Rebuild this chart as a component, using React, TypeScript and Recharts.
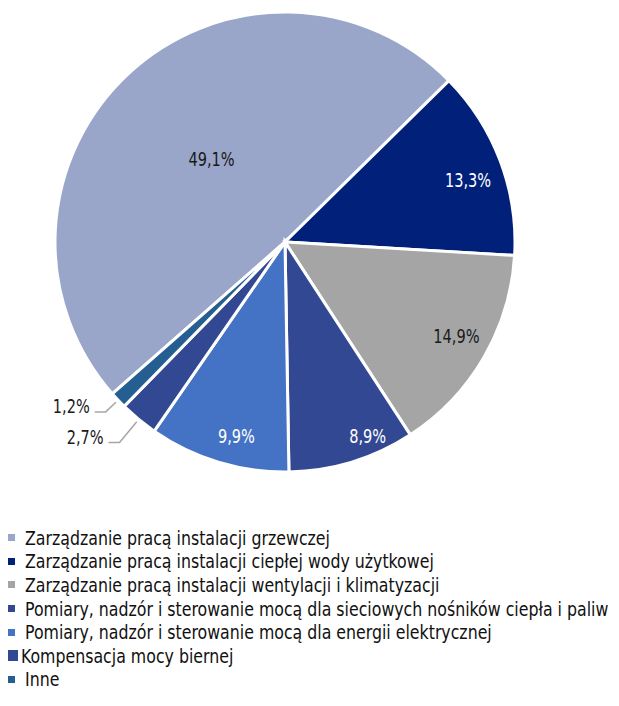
import { PieChart, Pie, Cell, Legend } from 'recharts';

// --- data ---
const categories = [
  'Zarządzanie pracą instalacji grzewczej',
  'Zarządzanie pracą instalacji ciepłej wody użytkowej',
  'Zarządzanie pracą instalacji wentylacji i klimatyzacji',
  'Pomiary, nadzór i sterowanie mocą dla sieciowych nośników ciepła i paliw',
  'Pomiary, nadzór i sterowanie mocą dla energii elektrycznej',
  'Kompensacja mocy biernej',
  'Inne',
];
const shares = [49.1, 13.3, 14.9, 8.9, 9.9, 2.7, 1.2];
const titleText = 'Struktura wydatków w latach 2011-2015';

// --- styling ---
const colors = ['#99a6c9', '#00207a', '#a5a5a5', '#324893', '#4472c4', '#324893', '#255e91'];
const labelColors = ['#1a1a1a', '#ffffff', '#1a1a1a', '#ffffff', '#ffffff', '#1a1a1a', '#1a1a1a'];
// inside labels: radius factor + compass angle shift; outside: elbow extension
const labelRadius = [0.48, 0.84, 0.85, 0.92, 0.87, 0, 0];
const labelShift = [1.2, 1.9, -1.4, -6, -2.8, 0, 0];
const outsideElbow = [0, 0, 0, 0, 0, 30, 17];
const markerSize = [7, 7, 7, 7, 7, 11, 7];

const FONT = '"DejaVu Sans Condensed", "DejaVu Sans", sans-serif';
const SQUEEZE = 0.85;
const RADIAN = Math.PI / 180;

const chartData = categories.map((name, i) => ({ name, value: shares[i] }));

const renderLabel = (props: any) => {
  const { cx, cy, midAngle, outerRadius, index } = props;
  const text = shares[index].toFixed(1).replace('.', ',') + '%';
  const compass = 90 - midAngle;
  if (outsideElbow[index] === 0) {
    const c = (compass + labelShift[index]) * RADIAN;
    const r = outerRadius * labelRadius[index];
    const x = cx + r * Math.sin(c);
    const y = cy - r * Math.cos(c);
    return (
      <text transform={`translate(${x},${y}) scale(${SQUEEZE},1)`} fill={labelColors[index]}
        textAnchor="middle" dominantBaseline="central" fontFamily={FONT} fontSize={19}>
        {text}
      </text>
    );
  }
  const c = compass * RADIAN;
  const r0 = outerRadius + 3;
  const r1 = outerRadius + outsideElbow[index];
  const x0 = cx + r0 * Math.sin(c);
  const y0 = cy - r0 * Math.cos(c);
  const x1 = cx + r1 * Math.sin(c);
  const y1 = cy - r1 * Math.cos(c);
  const x2 = x1 - 11;
  return (
    <g>
      <polyline points={`${x0},${y0} ${x1},${y1} ${x2},${y1}`} fill="none" stroke="#a6a6a6" strokeWidth={1.5} />
      <text transform={`translate(${x2 - 5},${y1 + 1}) scale(${SQUEEZE},1)`} fill={labelColors[index]}
        textAnchor="end" fontFamily={FONT} fontSize={19}>
        {text}
      </text>
    </g>
  );
};

const renderLegend = () => (
  <div style={{ fontFamily: FONT, fontSize: 20, color: '#111' }}>
    {categories.map((name, i) => (
      <div key={name} style={{ height: 23.6, display: 'flex', alignItems: 'center', whiteSpace: 'nowrap' }}>
        <span style={{
          display: 'inline-block', flexShrink: 0, width: markerSize[i], height: markerSize[i], background: colors[i],
          marginLeft: markerSize[i] > 7 ? 7 : 8, marginRight: markerSize[i] > 7 ? 3 : 10,
        }} />
        <span style={{ display: 'inline-block', flexShrink: 0, transform: 'scaleX(0.877)', transformOrigin: 'left center' }}>
          {name}
        </span>
      </div>
    ))}
  </div>
);

export default function App() {
  return (
    <div style={{ width: 619, height: 706, margin: '-8px 0 -8px -8px', position: 'relative', overflow: 'hidden', background: '#fff' }}>
      <PieChart width={619} height={706} margin={{ top: 0, right: 0, bottom: 0, left: 0 }} style={{ overflow: 'hidden' }}>
        <text x={-10} y={5} fontFamily='"Liberation Sans", Arial, sans-serif' fontWeight="bold" fontSize={22} fill="#000">
          {titleText.slice(-9)}
        </text>
        <Pie
          data={chartData}
          dataKey="value"
          nameKey="name"
          cx={285}
          cy={242}
          outerRadius={230}
          startAngle={-138.7}
          endAngle={-498.7}
          stroke="#ffffff"
          strokeWidth={3}
          label={renderLabel}
          labelLine={false}
          isAnimationActive={false}
        >
          {chartData.map((d, i) => (
            <Cell key={d.name} fill={colors[i]} />
          ))}
        </Pie>
        <Legend content={renderLegend} wrapperStyle={{ position: 'absolute', top: 526, left: 0, width: 619 }} />
      </PieChart>
    </div>
  );
}
